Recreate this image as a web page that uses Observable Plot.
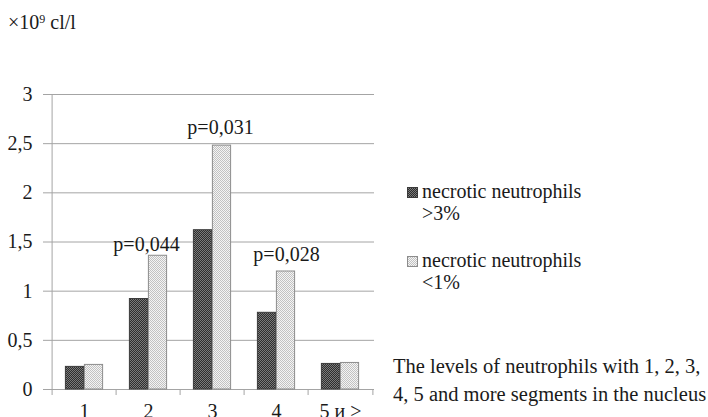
<!DOCTYPE html>
<html>
<head>
<meta charset="utf-8">
<script src="https://cdn.jsdelivr.net/npm/d3@7"></script>
<script src="https://cdn.jsdelivr.net/npm/@observablehq/plot@0.6"></script>
<style>
  html, body { margin: 0; padding: 0; background: #fff; }
  #wrap {
    position: relative; width: 708px; height: 417px; overflow: hidden;
    font-family: "Liberation Serif", "DejaVu Serif", serif; font-size: 20px; color: #1a1a1a;
  }
  #wrap svg.plot { position: absolute; left: 0; top: 0; }
  .note { position: absolute; white-space: nowrap; }
  #unit { left: 8px; top: 11px; line-height: 22px; }
  #unit sup { font-size: 12px; position: relative; top: -3px; vertical-align: top; }
  .key { position: absolute; left: 407px; }
  .key svg { position: absolute; left: 0; }
  .key span { position: absolute; left: 15px; top: 0; line-height: 22px; white-space: nowrap; }
  #caption { left: 393px; top: 353px; line-height: 27.7px; font-size: 20.5px; }
</style>
</head>
<body>
<div id="wrap">
  <div id="unit" class="note">×10<sup>9</sup> cl/l</div>
  <div id="caption" class="note"></div>
</div>
<script>
// Neutrophil levels by number of nuclear segments, two groups of patients
const categories = ["1", "2", "3", "4", "5 и >"];
const necroticHigh = [0.23, 0.92, 1.62, 0.78, 0.26];   // necrotic neutrophils >3%
const necroticLow = [0.25, 1.36, 2.48, 1.20, 0.27];    // necrotic neutrophils <1%
const yTicks = [0, 0.5, 1, 1.5, 2, 2.5, 3];
const seriesLabels = [["necrotic neutrophils", ">3%"], ["necrotic neutrophils", "<1%"]];
const pCategories = ["2", "3", "4"];
const pLabels = ["p=0,044", "p=0,031", "p=0,028"];
const captionLines = ["The levels of neutrophils with 1, 2, 3,", "4, 5 and more segments in the nucleus"];

const high = categories.map((c, i) => ({cat: c, value: necroticHigh[i]}));
const low = categories.map((c, i) => ({cat: c, value: necroticLow[i]}));
const notes = pCategories.map((c, k) => ({cat: c, value: necroticLow[categories.indexOf(c)], label: pLabels[k]}));

const W = 708, H = 417, mL = 50, mR = 334, mT = 94, mB = 28;
const step = (W - mL - mR) / categories.length;
const barW = 19;
const gridColor = "#a4a4a4";
const ink = "#1a1a1a";
const serif = '"Liberation Serif", "DejaVu Serif", serif';
const fmt = d => String(d).replace(".", ",");

// offsets of the significance labels relative to the taller bar of each pair
const noteOffsets = [{dx: -2, dy: -5}, {dx: 8, dy: -12}, {dx: 10, dy: -11}];

const chart = Plot.plot({
  width: W, height: H,
  marginLeft: mL, marginRight: mR, marginTop: mT, marginBottom: mB,
  style: {fontFamily: serif, fontSize: "20px", color: ink, background: "transparent", overflow: "visible"},
  x: {type: "band", domain: categories, padding: 0, axis: null, label: null},
  y: {domain: [0, 3], axis: null, label: null},
  marks: [
    Plot.gridY(yTicks, {stroke: gridColor, strokeOpacity: 1}),
    Plot.axisY(yTicks, {tickSize: 7, tickPadding: 11, stroke: gridColor, fill: ink, fontSize: 20, tickFormat: fmt, label: null}),
    Plot.ruleX([categories[0]], {x: d => d, y1: 0, y2: 3, dx: -step / 2, stroke: gridColor}),
    Plot.axisX(categories, {tickSize: 6, dx: -step / 2, stroke: gridColor, tickFormat: () => "", label: null}),
    Plot.axisX(categories.slice(-1), {tickSize: 6, dx: step / 2, stroke: gridColor, tickFormat: () => "", label: null}),
    Plot.axisX(categories, {tickSize: 0, tickPadding: 14, fill: ink, fontSize: 20, label: null}),
    Plot.rectY(high, {x: "cat", y: "value", fill: "url(#pat-high)", stroke: "#3a3a3a", strokeWidth: 1,
      insetLeft: step / 2 - barW, insetRight: step / 2}),
    Plot.rectY(low, {x: "cat", y: "value", fill: "url(#pat-low)", stroke: "#8c8c8c", strokeWidth: 1,
      insetLeft: step / 2, insetRight: step / 2 - barW}),
    ...notes.map((n, k) => Plot.text([n], {x: "cat", y: "value", text: "label", fill: ink, fontSize: 20,
      lineAnchor: "bottom", dx: noteOffsets[k].dx, dy: noteOffsets[k].dy}))
  ]
});

// fill patterns for the two series
const defs = d3.select(chart).insert("defs", ":first-child");
function checker(id, base, dot) {
  const p = defs.append("pattern").attr("id", id).attr("patternUnits", "userSpaceOnUse")
    .attr("width", 2).attr("height", 2);
  p.append("rect").attr("width", 2).attr("height", 2).attr("fill", base);
  p.append("rect").attr("width", 1).attr("height", 1).attr("fill", dot);
  p.append("rect").attr("x", 1).attr("y", 1).attr("width", 1).attr("height", 1).attr("fill", dot);
}
checker("pat-high", "#2e2e2e", "#7a7a7a");
checker("pat-low", "#f4f4f4", "#c2c2c2");

const wrap = document.getElementById("wrap");
wrap.insertBefore(chart, wrap.firstChild);

// legend
const keyTops = [180, 249];
const keyFills = ["url(#pat-high)", "url(#pat-low)"];
const keyStrokes = ["#3a3a3a", "#8c8c8c"];
seriesLabels.forEach((lines, i) => {
  const key = document.createElement("div");
  key.className = "key";
  key.style.top = keyTops[i] + "px";
  key.innerHTML = `<svg width="11" height="11" style="top:7px"><rect x="0.5" y="0.5" width="10" height="10" fill="${keyFills[i]}" stroke="${keyStrokes[i]}"/></svg><span>${lines.map(s => s.replace("<", "&lt;").replace(">", "&gt;")).join("<br>")}</span>`;
  wrap.appendChild(key);
});

// caption
document.getElementById("caption").innerHTML = captionLines.join("<br>");
</script>
</body>
</html>
